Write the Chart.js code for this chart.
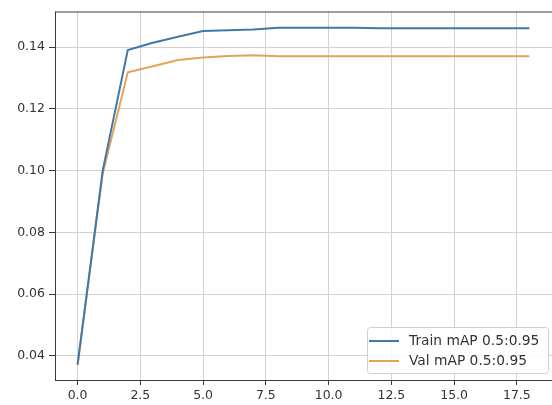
<!DOCTYPE html>
<html>
<head>
<meta charset="utf-8">
<script src="https://cdn.jsdelivr.net/npm/chart.js@4/dist/chart.umd.min.js"></script>
<style>
html,body{margin:0;padding:0;background:#fff;overflow:hidden;}
#wrap{width:552px;height:405px;}
</style>
</head>
<body>
<div id="wrap"><canvas id="c" width="552" height="405"></canvas></div>
<script>
const epochs = [0,1,2,3,4,5,6,7,8,9,10,11,12,13,14,15,16,17,18];
const trainMAP = [0.0372,0.1000,0.1390,0.1414,0.1433,0.1452,0.1454,0.1457,0.1462,0.1462,0.1462,0.1462,0.1461,0.1461,0.1461,0.1461,0.1461,0.1461,0.1461];
const valMAP = [0.0372,0.0990,0.1318,0.1338,0.1358,0.1366,0.1371,0.1373,0.1370,0.1370,0.1370,0.1370,0.1370,0.1370,0.1370,0.1370,0.1370,0.1370,0.1370];
const xTicks = [0,2.5,5,7.5,10,12.5,15,17.5];
const yTicks = [0.04,0.06,0.08,0.10,0.12,0.14];
const seriesLabels = ['Train mAP 0.5:0.95','Val mAP 0.5:0.95'];
const colors = ['#3f79a9','#e2a458'];

const FONT = 'DejaVu Sans';

const framePlugin = {
  id:'frame',
  afterDatasetsDraw(chart){
    const {ctx, chartArea:a} = chart;
    ctx.save();
    ctx.strokeStyle='#3a3a3a';
    ctx.lineWidth=1;
    ctx.beginPath();
    ctx.moveTo(a.left+0.5, a.top+0.5); ctx.lineTo(a.right, a.top+0.5);
    ctx.moveTo(a.left+0.5, a.top); ctx.lineTo(a.left+0.5, a.bottom+0.5);
    ctx.moveTo(a.left, a.bottom+0.5); ctx.lineTo(a.right, a.bottom+0.5);
    ctx.stroke();
    ctx.restore();
  },
  afterDraw(chart){
    const {ctx} = chart;
    ctx.save();
    const bx=367, by=327, bw=181, bh=46;
    ctx.fillStyle='rgba(255,255,255,0.85)';
    ctx.strokeStyle='#d0d0d0';
    ctx.lineWidth=1;
    ctx.beginPath();
    ctx.roundRect(bx+0.5,by+0.5,bw,bh,3);
    ctx.fill(); ctx.stroke();
    ctx.font = '13.8px "'+FONT+'"';
    ctx.textBaseline='middle';
    chart.data.datasets.forEach((ds,i)=>{
      const y = 341 + i*20;
      ctx.strokeStyle = ds.borderColor;
      ctx.lineWidth = 2;
      ctx.beginPath(); ctx.moveTo(369,y); ctx.lineTo(399,y); ctx.stroke();
      ctx.fillStyle='#333';
      ctx.fillText(ds.label, 409, y);
    });
    ctx.restore();
  }
};

new Chart(document.getElementById('c'), {
  type:'line',
  data:{
    datasets:[
      {label:seriesLabels[0], data:epochs.map((e,i)=>({x:e,y:trainMAP[i]})), borderColor:colors[0], borderWidth:2, pointRadius:0, tension:0, fill:false},
      {label:seriesLabels[1], data:epochs.map((e,i)=>({x:e,y:valMAP[i]})), borderColor:colors[1], borderWidth:2, pointRadius:0, tension:0, fill:false}
    ]
  },
  options:{
    responsive:false,
    animation:false,
    devicePixelRatio:1,
    layout:{padding:{top:10,left:0,right:0,bottom:0}},
    plugins:{legend:{display:false},tooltip:{enabled:false}},
    scales:{
      x:{
        type:'linear', min:-0.9, max:18.9,
        afterBuildTicks(s){ s.ticks = xTicks.map(v=>({value:v})); },
        afterFit(s){ s.height = 25; },
        ticks:{callback:v=>v.toFixed(1), color:'#333', font:{family:FONT,size:12.5}, padding:3, maxRotation:0, autoSkip:false},
        grid:{color:'#d2d2d2', lineWidth:1, tickLength:5, tickColor:'#3a3a3a', drawTicks:true},
        border:{display:false}
      },
      y:{
        type:'linear', min:0.0322, max:0.1515,
        afterBuildTicks(s){ s.ticks = yTicks.map(v=>({value:v})); },
        afterFit(s){ s.width = 55; },
        ticks:{callback:v=>v.toFixed(2), color:'#333', font:{family:FONT,size:12.5}, padding:4, autoSkip:false},
        grid:{color:'#d2d2d2', lineWidth:1, tickLength:6, tickColor:'#3a3a3a', drawTicks:true},
        border:{display:false}
      }
    }
  },
  plugins:[framePlugin]
});
</script>
</body>
</html>
